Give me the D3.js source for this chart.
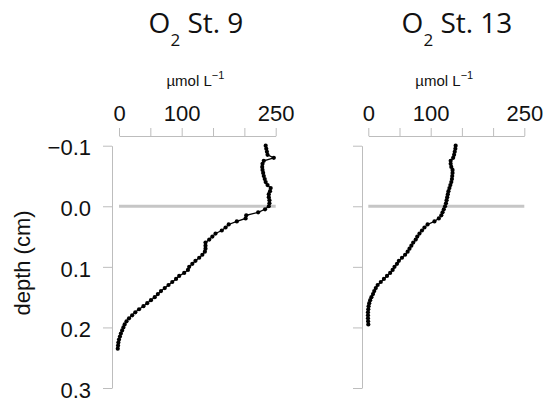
<!DOCTYPE html>
<html>
<head>
<meta charset="utf-8">
<script src="https://cdn.jsdelivr.net/npm/d3@7"></script>
<style>
  html, body { margin: 0; padding: 0; background: #fff; }
  svg { display: block; }
</style>
</head>
<body>
<svg id="chart" width="548" height="403"></svg>
<script>
// Oxygen microprofiles: depth (cm) vs O2 (µmol L-1), two stations
const depthTicks = [-0.1, 0.0, 0.1, 0.2, 0.3];
const o2Ticks = [0, 50, 100, 150, 200, 250];
const o2TickLabels = ["0", "", "100", "", "", "250"];
const stationNames = ["St. 9", "St. 13"];

const depthSt9 = [
  -0.100, -0.095, -0.090, -0.085, -0.080, -0.075, -0.070, -0.065, -0.060, -0.055,
  -0.050, -0.045, -0.040, -0.035, -0.030, -0.025, -0.020, -0.015, -0.010, -0.005,
   0.000,  0.005,  0.010,  0.015,  0.020,  0.025,  0.030,  0.035,  0.040,  0.045,
   0.050,  0.055,  0.060,  0.065,  0.070,  0.075,  0.080,  0.085,  0.090,  0.095,
   0.100,  0.105,  0.110,  0.115,  0.120,  0.125,  0.130,  0.135,  0.140,  0.145,
   0.150,  0.155,  0.160,  0.165,  0.170,  0.175,  0.180,  0.185,  0.190,  0.195,
   0.200,  0.205,  0.210,  0.215,  0.220,  0.225,  0.230,  0.235
];
const o2St9 = [
  234, 235, 236, 237, 247, 231, 229, 228.5, 229, 230,
  231, 232.5, 234, 237, 242, 241, 239, 239, 240, 240,
  239, 233, 222, 203, 202, 188, 175, 170, 164, 154,
  149, 144, 138, 138, 138, 137, 133, 128, 122, 117,
  112, 110, 104, 96, 91, 85, 79, 73, 67, 62,
  57, 51, 45, 39, 32, 26, 21, 16, 12, 9,
  7, 5, 3, 1.5, 0, -1, -1.5, -2
];

const depthSt13 = [
  -0.100, -0.095, -0.090, -0.085, -0.080, -0.075, -0.070, -0.065, -0.060, -0.055,
  -0.050, -0.045, -0.040, -0.035, -0.030, -0.025, -0.020, -0.015, -0.010, -0.005,
   0.000,  0.005,  0.010,  0.015,  0.020,  0.025,  0.030,  0.035,  0.040,  0.045,
   0.050,  0.055,  0.060,  0.065,  0.070,  0.075,  0.080,  0.085,  0.090,  0.095,
   0.100,  0.105,  0.110,  0.115,  0.120,  0.125,  0.130,  0.135,  0.140,  0.145,
   0.150,  0.155,  0.160,  0.165,  0.170,  0.175,  0.180,  0.185,  0.190,  0.195
];
const o2St13 = [
  140, 139.5, 138.5, 137.5, 136, 132, 132, 133, 135, 135,
  134.5, 134, 133, 131.5, 130, 128.5, 127.5, 126.5, 125.5, 124.5,
  123, 121, 119, 117, 113, 106, 95, 90, 86, 82,
  78.5, 76, 72, 69, 66, 63, 59, 54, 49, 46,
  42, 39, 35, 30, 25, 20, 15, 12, 9.5, 7.5,
  5, 3, 1.5, 0.5, 0, -0.5, -0.5, -0.5, -0.3, 0
];

const surfaceDepth = 0.0;

const svg = d3.select("#chart");
const axisColor = "#bdbdbd";
const tickFont = "Liberation Sans, Arial, sans-serif";
const titleFont = "Open Sans, Noto Sans, sans-serif";

const y = d3.scaleLinear().domain([-0.1, 0.3]).range([145.7, 388]);

const panels = [
  { name: stationNames[0], depth: depthSt9, o2: o2St9, x0: 119, x1: 275.7, axisX: 112, yLabels: true, titleX: 196 },
  { name: stationNames[1], depth: depthSt13, o2: o2St13, x0: 368.3, x1: 524.3, axisX: 362, yLabels: false, titleX: 457 }
];

panels.forEach(p => {
  const x = d3.scaleLinear().domain([0, 250]).range([p.x0, p.x1]);
  const g = svg.append("g");

  // title: O2 St. n
  const t = g.append("text")
    .attr("x", p.titleX).attr("y", 33)
    .attr("text-anchor", "middle")
    .attr("font-family", titleFont)
    .attr("font-size", 28)
    .attr("fill", "#111");
  t.append("tspan").text("O");
  t.append("tspan").attr("font-size", 17).attr("dy", 13).text("2");
  t.append("tspan").attr("dy", -13).text(" " + p.name);

  // unit label
  const cx = (p.x0 + p.x1) / 2 - 2;
  const u = g.append("text")
    .attr("x", cx).attr("y", 86)
    .attr("text-anchor", "middle")
    .attr("font-family", tickFont)
    .attr("font-size", 15)
    .attr("fill", "#111");
  u.append("tspan").text("µmol L");
  u.append("tspan").attr("font-size", 11).attr("dy", -7).text("\u22121");

  // top x axis
  const xAxis = d3.axisTop(x)
    .tickValues(o2Ticks)
    .tickFormat((d, i) => o2TickLabels[i])
    .tickSize(8)
    .tickSizeOuter(0)
    .tickPadding(7);
  const gx = g.append("g").attr("transform", "translate(0,136)").call(xAxis);
  gx.select(".domain").attr("stroke", axisColor);
  gx.selectAll(".tick line").attr("stroke", axisColor);
  gx.selectAll(".tick text")
    .attr("font-family", tickFont)
    .attr("font-size", 22)
    .attr("fill", "#111");

  // left depth axis
  const yAxis = d3.axisLeft(y)
    .tickValues(depthTicks)
    .tickFormat(p.yLabels ? d3.format(".1f") : () => "")
    .tickSize(9)
    .tickSizeOuter(0)
    .tickPadding(12);
  const gy = g.append("g").attr("transform", `translate(${p.axisX},0)`).call(yAxis);
  gy.select(".domain").attr("stroke", axisColor);
  gy.selectAll(".tick line").attr("stroke", axisColor);
  gy.selectAll(".tick text")
    .attr("font-family", tickFont)
    .attr("font-size", 22)
    .attr("dy", "0.42em")
    .attr("fill", "#111");

  // sediment surface marker
  g.append("line")
    .attr("x1", x(0)).attr("x2", x(250))
    .attr("y1", y(surfaceDepth)).attr("y2", y(surfaceDepth))
    .attr("stroke", "#c6c6c6")
    .attr("stroke-width", 3);

  // profile
  const pts = p.depth.map((d, i) => [p.o2[i], d]);
  g.append("path")
    .datum(pts)
    .attr("fill", "none")
    .attr("stroke", "#000")
    .attr("stroke-width", 1.3)
    .attr("d", d3.line().x(d => x(d[0])).y(d => y(d[1])));
  g.selectAll("circle.pt")
    .data(pts)
    .join("circle")
    .attr("class", "pt")
    .attr("cx", d => x(d[0]))
    .attr("cy", d => y(d[1]))
    .attr("r", 2.1)
    .attr("fill", "#000");
});

// depth axis title
svg.append("text")
  .attr("transform", "translate(30,263) rotate(-90)")
  .attr("text-anchor", "middle")
  .attr("font-family", tickFont)
  .attr("font-size", 22)
  .attr("fill", "#111")
  .text("depth (cm)");
</script>
</body>
</html>
